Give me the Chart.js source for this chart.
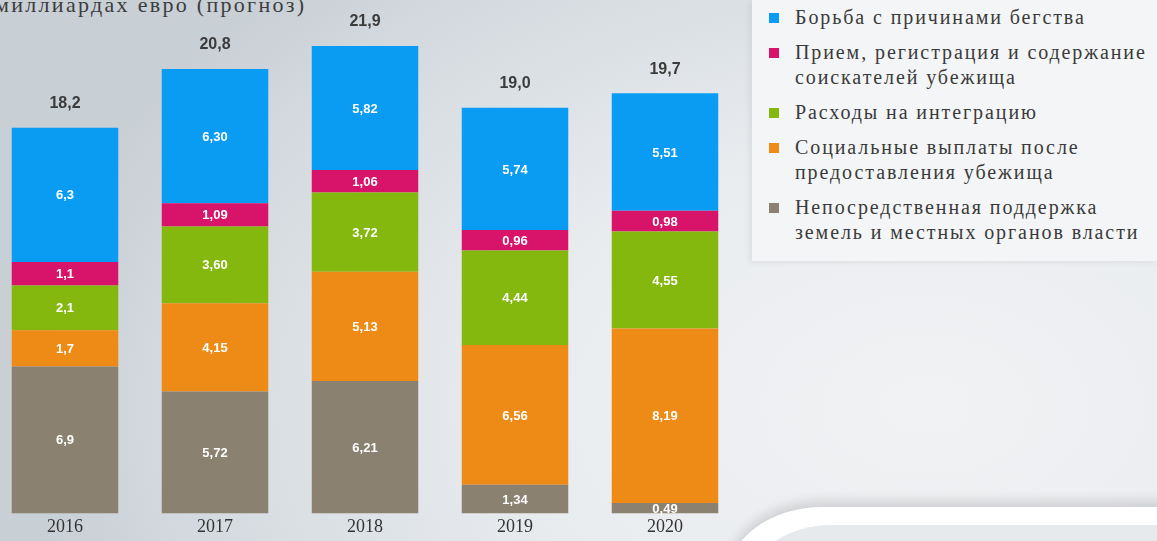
<!DOCTYPE html>
<html lang="ru">
<head>
<meta charset="utf-8">
<script src="https://cdn.jsdelivr.net/npm/chart.js@4.4.1/dist/chart.umd.min.js"></script>
<style>
  html, body { margin: 0; padding: 0; }
  body {
    width: 1157px; height: 541px; overflow: hidden; position: relative;
    background: radial-gradient(ellipse 900px 600px at 80% 75%, #f1f2f4 0%, #e9ecef 45%, #d3d9de 85%, #c8cfd5 100%);
  }
  #title {
    position: absolute; left: -5px; top: -8px;
    font-family: 'Liberation Serif', serif;
    font-size: 22px; letter-spacing: 2.3px; color: #3d3d3d; white-space: nowrap;
  }
  #box { position: absolute; left: -10px; top: 0; width: 750px; height: 541px; }
  #legend {
    position: absolute; left: 752px; top: 0; width: 405px; height: 261px;
    background: #f4f5f7; box-shadow: -3px 2px 6px rgba(0,0,0,0.06);
    box-sizing: border-box; padding: 5px 0 0 17px;
  }
  .item { display: flex; align-items: flex-start; margin-bottom: 10px; }
  .sw { width: 10px; height: 10px; margin: 8px 16px 0 0; flex: none; }
  .txt {
    font-family: 'Liberation Serif', serif;
    font-size: 20px; letter-spacing: 1.9px; line-height: 25px; color: #3a3a3a; white-space: nowrap;
  }
  #band {
    position: absolute; left: 728px; top: 507px; width: 600px; height: 120px;
    background: #fff; border-top-left-radius: 95px 70px;
    box-shadow: 0 -6px 12px rgba(0,0,0,0.13);
  }
  #panel {
    position: absolute; left: 752px; top: 525px; width: 600px; height: 100px;
    background: #e7eaed; border-top-left-radius: 80px 55px;
  }
</style>
</head>
<body>
<div id="title">миллиардах евро (прогноз)</div>
<div id="box"><canvas id="chart"></canvas></div>
<div id="legend"></div>
<div id="band"></div>
<div id="panel"></div>
<script>
  const years = ["2016", "2017", "2018", "2019", "2020"];

  const seriesNames = [
    "Непосредственная поддержка земель и местных органов власти",
    "Социальные выплаты после предоставления убежища",
    "Расходы на интеграцию",
    "Прием, регистрация и содержание соискателей убежища",
    "Борьба с причинами бегства"
  ];
  // two-line legend text as in the picture
  const legendLines = [
    ["Непосредственная поддержка", "земель и местных органов власти"],
    ["Социальные выплаты после", "предоставления убежища"],
    ["Расходы на интеграцию"],
    ["Прием, регистрация и содержание", "соискателей убежища"],
    ["Борьба с причинами бегства"]
  ];
  const seriesColors = ["#8a8171", "#ee8b17", "#84b80f", "#d8146a", "#0a9cf2"];

  const support     = [6.9, 5.72, 6.21, 1.34, 0.49];
  const social      = [1.7, 4.15, 5.13, 6.56, 8.19];
  const integration = [2.1, 3.60, 3.72, 4.44, 4.55];
  const reception   = [1.1, 1.09, 1.06, 0.96, 0.98];
  const causes      = [6.3, 6.30, 5.82, 5.74, 5.51];

  const totals   = ["18,2", "20,8", "21,9", "19,0", "19,7"];
  const decimals = [1, 2, 2, 2, 2];

  const seriesValues = [support, social, integration, reception, causes];

  // legend (top to bottom = reverse of stack order)
  const legend = document.getElementById("legend");
  for (let i = seriesNames.length - 1; i >= 0; i--) {
    const item = document.createElement("div");
    item.className = "item";
    item.title = seriesNames[i];
    item.innerHTML = '<div class="sw" style="background:' + seriesColors[i] + '"></div>' +
      '<div class="txt">' + legendLines[i].join("<br>") + '</div>';
    legend.appendChild(item);
  }

  const fmt = (v, d) => v.toFixed(d).replace(".", ",");

  // values inside segments and totals above bars
  const labelPlugin = {
    id: "barLabels",
    afterDatasetsDraw: (chart) => {
      const ctx = chart.ctx;
      ctx.save();
      ctx.textAlign = "center";
      ctx.textBaseline = "middle";
      ctx.font = "bold 13px 'Liberation Sans', Arial, sans-serif";
      ctx.fillStyle = "#ffffff";
      chart.data.datasets.forEach((ds, di) => {
        chart.getDatasetMeta(di).data.forEach((bar, i) => {
          const mid = (bar.y + bar.base) / 2;
          ctx.fillText(fmt(ds.data[i], decimals[i]), bar.x, mid + 1);
        });
      });
      const top = chart.getDatasetMeta(chart.data.datasets.length - 1).data;
      ctx.font = "bold 16px 'Liberation Sans', Arial, sans-serif";
      ctx.fillStyle = "#3b3b3b";
      top.forEach((bar, i) => {
        ctx.fillText(totals[i], bar.x, bar.y - 24);
      });
      ctx.restore();
    }
  };

  new Chart(document.getElementById("chart"), {
    type: "bar",
    data: {
      labels: years,
      datasets: seriesValues.map((vals, i) => ({
        label: seriesNames[i],
        data: vals,
        backgroundColor: seriesColors[i],
        borderWidth: 0,
        barPercentage: 0.71,
        categoryPercentage: 1
      }))
    },
    options: {
      responsive: true,
      maintainAspectRatio: false,
      animation: false,
      layout: { padding: { top: 0, bottom: 0, left: 0, right: 0 } },
      plugins: {
        legend: { display: false },
        title: { display: false },
        tooltip: { enabled: false }
      },
      scales: {
        x: {
          stacked: true,
          grid: { display: false, drawTicks: false },
          border: { display: false },
          ticks: {
            color: "#333",
            padding: 3,
            font: { family: "'Liberation Serif', serif", size: 18 }
          }
        },
        y: {
          stacked: true,
          display: false,
          min: 0,
          max: 24.1
        }
      }
    },
    plugins: [labelPlugin]
  });
</script>
</body>
</html>
